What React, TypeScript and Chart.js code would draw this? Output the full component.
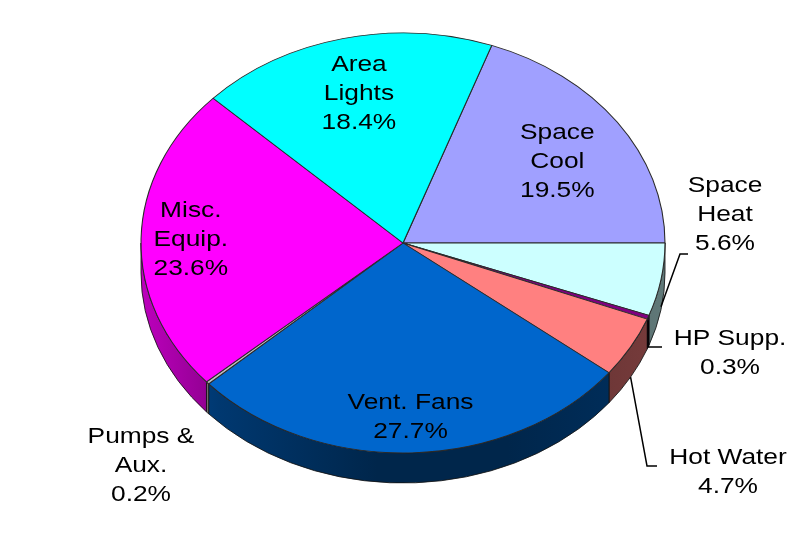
import React, { useEffect, useRef } from "react";
import { Chart, registerables } from "chart.js";

Chart.register(...registerables);

// ---- data ----
const categories = [
  "Space Cool",
  "Space Heat",
  "HP Supp.",
  "Hot Water",
  "Vent. Fans",
  "Pumps & Aux.",
  "Misc. Equip.",
  "Area Lights",
];
const shares = [19.5, 5.6, 0.3, 4.7, 27.7, 0.2, 23.6, 18.4];
const labelLines = [
  ["Space", "Cool"],
  ["Space", "Heat"],
  ["HP Supp."],
  ["Hot Water"],
  ["Vent. Fans"],
  ["Pumps &", "Aux."],
  ["Misc.", "Equip."],
  ["Area", "Lights"],
];
const topColors = [
  "#A0A0FF",
  "#CCFFFF",
  "#800080",
  "#FF8080",
  "#0066CC",
  "#C0C0C0",
  "#FF00FF",
  "#00FFFF",
];

// ---- layout ----
const W = 792;
const H = 542;
const CX = 403;
const CY = 243;
const RX = 262;
const RY = 210;
const DEPTH = 30;
const FONT_PX = 22.5;
const TEXT_STRETCH = 1.17;
const LINE_H = 29;

type Placement = {
  radial?: [number, number];
  center?: [number, number];
  leader?: { depth: number; elbow: [number, number]; tail: number };
};

const labelPlacement: Placement[] = [
  { radial: [0.72, 0.67] },
  { center: [725, 215], leader: { depth: 0.9, elbow: [680, 254], tail: 8 } },
  { center: [730, 353], leader: { depth: 0.1, elbow: [648, 347], tail: 14 } },
  { center: [728, 472], leader: { depth: 1.0, elbow: [647, 466], tail: 10 } },
  { radial: [0.83, 0.83] },
  { center: [141, 466] },
  { radial: [0.81, 0.81] },
  { radial: [0.73, 0.73] },
];

function shade(hex: string, f: number): string {
  const n = parseInt(hex.slice(1), 16);
  const r = Math.round(((n >> 16) & 255) * f);
  const g = Math.round(((n >> 8) & 255) * f);
  const b = Math.round((n & 255) * f);
  return `rgb(${r},${g},${b})`;
}

function drawSide(ctx: CanvasRenderingContext2D, a: number, b: number, color: string) {
  const g = ctx.createLinearGradient(CX - RX, 0, CX + RX, 0);
  g.addColorStop(0, shade(color, 0.74));
  g.addColorStop(0.15, shade(color, 0.55));
  g.addColorStop(0.45, shade(color, 0.37));
  g.addColorStop(0.7, shade(color, 0.37));
  g.addColorStop(1, shade(color, 0.47));
  ctx.beginPath();
  ctx.ellipse(CX, CY, RX, RY, 0, a, b, false);
  ctx.ellipse(CX, CY + DEPTH, RX, RY, 0, b, a, true);
  ctx.closePath();
  ctx.fillStyle = g;
  ctx.fill();
  ctx.strokeStyle = "rgba(20,20,20,0.85)";
  ctx.lineWidth = 1;
  ctx.stroke();
}

const pie3d = {
  id: "pie3d",
  beforeDatasetsDraw(chart: any) {
    const meta = chart.getDatasetMeta(0);
    const ctx: CanvasRenderingContext2D = chart.ctx;
    // side walls of the front half
    meta.data.forEach((arc: any, i: number) => {
      const { startAngle, endAngle } = arc.getProps(["startAngle", "endAngle"], true);
      for (let k = -1; k <= 2; k++) {
        const lo = Math.max(startAngle, 2 * Math.PI * k);
        const hi = Math.min(endAngle, 2 * Math.PI * k + Math.PI);
        if (hi > lo) drawSide(ctx, lo, hi, topColors[i]);
      }
    });
    // squash the circular top face into the tilted ellipse
    const a0 = meta.data[0];
    const r = a0.outerRadius;
    ctx.save();
    ctx.translate(CX, CY);
    ctx.scale(RX / r, RY / r);
    ctx.translate(-a0.x, -a0.y);
  },
  afterDatasetsDraw(chart: any) {
    chart.ctx.restore();
  },
  afterDraw(chart: any) {
    const meta = chart.getDatasetMeta(0);
    const ctx: CanvasRenderingContext2D = chart.ctx;
    ctx.save();
    ctx.font = `${FONT_PX}px "Liberation Sans", Arial, sans-serif`;
    ctx.fillStyle = "#000";
    ctx.textAlign = "center";
    ctx.textBaseline = "middle";
    meta.data.forEach((arc: any, i: number) => {
      const { startAngle, endAngle } = arc.getProps(["startAngle", "endAngle"], true);
      const mid = (startAngle + endAngle) / 2;
      const p = labelPlacement[i];
      const lines = [...labelLines[i], `${shares[i].toFixed(1)}%`];
      let cx: number, cy: number;
      if (p.radial) {
        cx = CX + RX * p.radial[0] * Math.cos(mid);
        cy = CY + RY * p.radial[1] * Math.sin(mid);
      } else {
        cx = p.center![0];
        cy = p.center![1];
      }
      const top = cy - ((lines.length - 1) * LINE_H) / 2;
      lines.forEach((t, j) => {
        ctx.save();
        ctx.translate(cx, top + j * LINE_H);
        ctx.scale(TEXT_STRETCH, 1);
        ctx.fillText(t, 0, 0);
        ctx.restore();
      });
      if (p.leader) {
        const sx = CX + RX * Math.cos(mid);
        const sy = CY + RY * Math.sin(mid) + DEPTH * p.leader.depth;
        const [ex, ey] = p.leader.elbow;
        ctx.beginPath();
        ctx.moveTo(sx, sy);
        ctx.lineTo(ex, ey);
        ctx.lineTo(ex + p.leader.tail, ey);
        ctx.strokeStyle = "#000";
        ctx.lineWidth = 1.5;
        ctx.stroke();
      }
    });
    ctx.restore();
  },
};

export default function App() {
  const ref = useRef<HTMLCanvasElement | null>(null);

  useEffect(() => {
    if (!ref.current) return;
    const total = shares.reduce((s, v) => s + v, 0);
    const chart = new Chart(ref.current, {
      type: "pie",
      data: {
        labels: categories,
        datasets: [
          {
            data: shares,
            backgroundColor: topColors,
            borderColor: "#2a2a2a",
            borderWidth: 1,
            clip: false,
          } as any,
        ],
      },
      options: {
        responsive: false,
        animation: false,
        events: [],
        rotation: 90 - (360 * shares[0]) / total,
        layout: { padding: { left: 141, right: 127, top: 0, bottom: 56 } },
        plugins: {
          legend: { display: false },
          tooltip: { enabled: false },
        },
      },
      plugins: [pie3d],
    });
    return () => chart.destroy();
  }, []);

  return (
    <div style={{ position: "fixed", left: 0, top: 0, width: W, height: H, background: "#fff" }}>
      <canvas ref={ref} width={W} height={H} style={{ width: W, height: H, display: "block" }} />
    </div>
  );
}
